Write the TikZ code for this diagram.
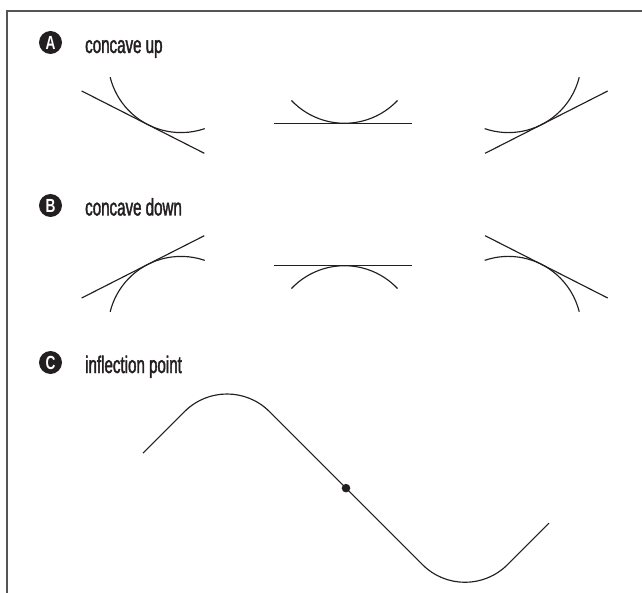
\documentclass[tikz,border=0pt]{standalone}
\usepackage{fontspec}
\newfontfamily\labfont[FakeStretch=0.63,FakeBold=1.6]{Liberation Sans}
\newfontfamily\tagletterfont[FakeStretch=0.72]{Liberation Sans}
\definecolor{ink}{HTML}{231F20}
\definecolor{framegray}{HTML}{555555}
\newcommand\drawconcaveset{%
  % left
  \draw[curve] (81.7,-91) -- (204.3,-153.3);
  \draw[curve] (181,-59.6) ++(-166:73) arc[start angle=-166,end angle=-71,radius=73];
  % middle
  \draw[curve] (274.3,-123.3) -- (412.3,-123.3);
  \draw[curve] (344.5,-50.3) ++(-136.6:73) arc[start angle=-136.6,end angle=-43.4,radius=73];
  % right
  \draw[curve] (607.7,-91) -- (485.1,-153.3);
  \draw[curve] (508.4,-59.6) ++(-109:73) arc[start angle=-109,end angle=-14,radius=73];
}
\begin{document}
\begin{tikzpicture}[x=1pt,y=1pt,
  curve/.style={line width=1.15pt, draw=ink},
  frameline/.style={line width=2pt, draw=framegray},
  tagcircle/.style={circle, fill=ink, text=white, inner sep=0pt, minimum size=23pt,
    font=\tagletterfont\bfseries\fontsize{19}{19}\selectfont},
  heading/.style={anchor=base west, inner sep=0pt, text=ink,
    font=\labfont\fontsize{24}{28}\selectfont}]
\useasboundingbox (0,0) rectangle (642,-593);
% frame
\draw[frameline] (7,-593) -- (7,-11) -- (642,-11);

% labels
\node[tagcircle] (tagA) at (50.5,-42.5) {A};
\node[heading] (headA) at (85,-53) {concave up};
\node[tagcircle] (tagB) at (50.5,-205.5) {B};
\node[heading] (headB) at (85,-215.5) {concave down};
\node[tagcircle] (tagC) at (50.5,-362.5) {C};
\node[heading] (headC) at (85,-373) {inflection point};

% A: concave up
\drawconcaveset
% B: concave down (mirror of A)
\begin{scope}[shift={(0,-389)}, yscale=-1]
  \drawconcaveset
\end{scope}

% C: inflection point
\draw[curve] (143,-453.14) -- (184.57,-411.57)
  arc[start angle=135,end angle=45,radius=60]
  -- (422.57,-564.71)
  arc[start angle=225,end angle=315,radius=60]
  -- (549,-523.14);
\fill[ink] (346,-488.14) circle (4.3);
\end{tikzpicture}
\end{document}
